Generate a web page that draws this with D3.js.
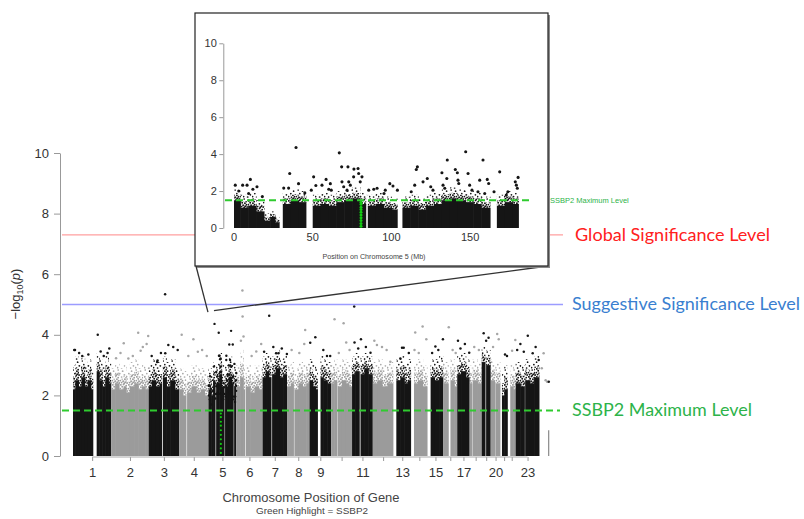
<!DOCTYPE html>
<html><head><meta charset="utf-8">
<script src="https://cdn.jsdelivr.net/npm/d3@7"></script>
<style>body{margin:0;background:#fff}svg{display:block}</style>
</head><body>
<svg id="c" width="804" height="519"></svg>
<script>
// ---------------- DATA ----------------
const chromosomes = ["1","2","3","4","5","6","7","8","9","10","11","12","13","14","15","16","17","18","19","20","21","22","23","24","25"];
const chromLengths = [249,243,198,191,181,171,159,146,141,136,135,134,115,107,103,90,81,78,59,63,48,51,155,59,3];
const labeledChromosomes = ["1","2","3","4","5","6","7","8","9","11","13","15","17","20","23"];
const yTicks = [0,2,4,6,8,10];
const insetXTicks = [0,50,100,150];
const levelNames = ["Global Significance Level","Suggestive Significance Level","SSBP2 Maximum Level"];
const levelValues = [7.3, 5.0, 1.5];

// dense body of each chromosome: [startMb, endMb, solidTop, fringeTop]
const bodySegments = [
 [[0,15,2.2,3.0],[15,35,2.5,3.3],[35,55,2.3,3.1],[55,75,2.6,3.3],[75,95,2.3,3.0],[95,115,2.5,3.2],[115,132,2.2,2.9],[154,170,2.8,3.4],[170,190,2.5,3.2],[190,210,2.3,3.0],[210,230,2.6,3.3],[230,249,2.4,3.1]],
 [[0,25,2.2,2.9],[25,50,2.4,3.1],[50,80,2.2,2.9],[80,95,2.3,3.0],[95,120,2.1,2.8],[120,150,2.3,3.1],[150,175,2.4,3.2],[175,200,2.2,2.9],[200,220,2.3,3.0],[220,243,2.2,2.9]],
 [[0,20,2.3,3.0],[20,45,2.5,3.2],[45,70,2.3,3.1],[70,88,2.4,3.0],[93,115,2.6,3.3],[115,140,2.3,3.1],[140,170,2.5,3.2],[170,198,2.2,2.9]],
 [[0,25,2.2,2.9],[25,48,2.0,2.8],[52,80,2.1,2.8],[80,110,2.3,3.0],[110,140,2.1,2.9],[140,165,2.2,2.9],[165,191,2.0,2.7]],
 [[0,18,2.2,2.9],[18,30,2.0,2.7],[30,46,2.5,3.1],[50,70,2.4,3.1],[70,85,2.7,3.4],[85,105,2.3,3.0],[108,130,2.3,3.0],[130,150,2.6,3.3],[150,164,2.4,3.1],[167,181,2.3,3.0]],
 [[0,25,2.3,3.0],[25,45,2.6,3.5],[45,58,2.2,2.9],[62,90,2.3,3.0],[90,120,2.1,2.8],[120,145,2.3,3.0],[145,171,2.2,2.9]],
 [[0,20,2.6,3.3],[20,40,2.8,3.4],[40,58,2.6,3.3],[62,85,2.7,3.3],[85,110,2.9,3.5],[110,135,2.6,3.2],[135,159,2.7,3.3]],
 [[0,25,2.3,3.0],[25,45,2.4,3.1],[48,75,2.2,2.9],[75,100,2.4,3.1],[100,125,2.3,3.0],[125,146,2.4,3.1]],
 [[0,20,2.5,3.2],[20,40,2.3,3.0],[40,55,2.2,2.9],[72,90,2.6,3.3],[90,115,2.5,3.2],[115,141,2.4,3.1]],
 [[0,20,2.4,3.1],[20,40,2.5,3.2],[42,70,2.3,3.0],[70,95,2.5,3.2],[95,115,2.4,3.1],[115,136,2.3,3.0]],
 [[0,20,2.7,3.3],[20,50,2.8,3.4],[55,80,2.7,3.3],[80,105,2.9,3.4],[105,135,2.7,3.3]],
 [[0,30,2.4,3.1],[30,60,2.5,3.2],[60,95,2.3,3.0],[95,134,2.4,3.1]],
 [[19,45,2.5,3.2],[45,70,2.6,3.3],[70,95,2.4,3.1],[95,115,2.5,3.2]],
 [[19,45,2.4,3.1],[45,75,2.5,3.2],[75,107,2.3,3.0]],
 [[20,45,2.6,3.2],[45,75,2.5,3.2],[75,103,2.6,3.3]],
 [[0,35,2.4,3.1],[46,70,2.5,3.2],[70,90,2.3,3.0]],
 [[0,25,2.7,3.3],[25,55,2.8,3.4],[55,81,2.6,3.2]],
 [[0,18,2.4,3.0],[20,50,2.5,3.2],[50,78,2.4,3.1]],
 [[0,25,3.1,3.6],[29,59,3.0,3.5]],
 [[0,28,2.5,3.2],[30,63,2.4,3.1]],
 [[10,25,2.0,2.8],[25,48,2.2,3.0]],
 [[16,35,2.3,3.0],[35,51,2.2,2.9]],
 [[0,30,2.4,3.1],[30,60,2.3,3.0],[62,90,2.5,3.2],[90,120,2.4,3.1],[120,155,2.6,3.3]],
 [],
 [[0,3,0.85,0.85]]
];

// scattered SNPs above the dense body: [chromosome, positionMb, -log10(p)]
const peakPoints = [
 [1,8,3.5],[1,13,3.5],[1,161,4.0],[1,236,3.55],[1,40,3.4],[1,100,3.35],[1,180,3.45],[1,200,3.3],[1,60,3.3],[1,225,3.4],
 [2,81,3.72],[2,175,4.07],[2,240,3.96],[2,230,3.7],[2,191,3.47],[2,111,3.22],[2,31,3.23],[2,140,3.3],[2,60,3.4],[2,205,3.6],
 [3,107,5.34],[3,128,3.66],[3,108,3.39],[3,20,3.3],[3,55,3.1],[3,58,3.15],[3,189,3.5],[3,160,3.6],[3,80,3.4],
 [4,93,3.85],[4,122,3.44],[4,60,3.3],[4,17,4.0],[4,150,3.5],[4,180,3.3],
 [6,40,5.46],[6,41,4.6],[6,47,3.94],[6,162,3.7],[6,30,3.8],[6,100,3.3],[6,130,3.45],
 [7,43,4.63],[7,103,3.39],[7,88,3.39],[7,158,3.37],[7,10,3.44],[7,70,3.6],[7,125,3.55],
 [8,118,4.16],[8,112,3.7],[8,30,3.5],[8,80,3.4],
 [9,38,3.92],[9,5,3.74],[9,114,3.3],[9,135,3.3],[9,90,3.5],
 [10,22,4.51],[10,81,4.38],[10,98,3.75],[10,50,3.4],[10,120,3.5],
 [11,14,4.93],[11,58,3.85],[11,16,3.75],[11,120,3.41],[11,90,3.6],[11,40,3.55],
 [12,27,3.66],[12,114,3.11],[12,60,3.6],[12,90,3.5],[12,10,3.8],
 [13,56,3.57],[13,67,3.57],[13,45,3.22],[13,100,3.4],
 [14,75,4.27],[14,27,4.08],[14,99,3.85],[14,22,3.5],[14,50,3.4],
 [15,100,3.85],[15,51,3.61],[15,70,3.5],[15,30,3.4],
 [16,35,4.25],[16,60,3.5],[16,80,3.4],
 [17,21,3.55],[17,78,3.41],[17,50,3.7],[17,5,3.8],
 [18,30,3.6],[18,60,3.5],
 [19,13,4.05],[19,29,3.8],[19,45,3.9],
 [20,42,4.03],[20,52,3.85],[20,15,3.6],
 [21,43,3.3],[21,30,3.35],
 [22,49,3.83],[22,28,3.47],
 [23,79,3.97],[23,31,3.7],[23,53,3.44],[23,111,3.39],[23,150,3.17],[23,130,3.6],[23,10,3.5],
 [24,27,3.39],[24,15,2.9],[24,40,2.5],[24,50,2.45],
 [25,1.5,2.45]
];

// chromosome 5 detail (inset): [positionMb, -log10(p)]
const chr5Points = [
 [39.4,4.36],[66.9,4.07],[72.4,3.31],[78.8,3.22],[35.4,2.95],[50.6,2.77],[10.4,2.63],[0.8,2.32],[5.5,2.32],[8.3,2.32],
 [14.6,2.23],[9.3,1.87],[31.6,2.16],[34.7,2.16],[41,2.4],[58.5,2.63],[61.2,2.4],[55.9,2.32],[60.2,2.1],[61.8,2.05],
 [68.6,2.5],[69.7,2.23],[72.9,2.5],[73.9,2.32],[76,2.77],[79.2,2.95],[81.3,2.77],[80.2,2.5],[71.8,2.05],[49.1,2.05],
 [85.6,2.05],[88.8,2.1],[90.9,2.15],[147.2,4.13],[135.5,3.68],[158.2,3.68],[116.5,3.31],[115.8,3.17],[132.1,2.99],[140.6,3.17],
 [141.9,2.99],[148.7,2.95],[168.8,3.04],[180.5,2.74],[178.7,2.5],[179.4,2.32],[122.8,2.68],[120.1,2.5],[114.8,2.32],[112.6,1.96],
 [101,2.27],[103.8,2.05],[96.1,2.05],[95.3,1.87],[125,2.23],[126.4,2.05],[132.8,2.32],[133.9,2.15],[135.2,2.68],[142.3,2.59],
 [142.8,2.41],[149.7,2.32],[151.2,2.05],[156.1,2.59],[160.9,2.63],[161.8,2.41],[155,1.96],[159.3,1.87],[165.2,1.96],[174,1.96],
 [173,1.78],[180,2.15],[3,2.0],[12,2.1],[18,1.7],[45,1.9],[99,2.4],[76.2,3.19],[68.4,3.31],[52,2.3]
];
const chr5Body = [
 [0,4,1.5,2.1],[4,9,1.1,1.8],[9,14,1.2,1.9],[14,19,0.9,1.5],[19,23,0.4,0.8],[23,26,0.6,0.9],[26,29,0.3,0.6],
 [31,36,1.3,1.9],[36,41,1.5,2.1],[41,46,1.4,2.0],[50,55,1.2,1.8],[55,60,1.3,1.9],[60,65,1.2,1.8],[65,70,1.4,2.0],
 [70,75,1.5,2.1],[75,80,1.6,2.2],[80,84,1.3,1.9],[85,90,1.2,1.8],[90,95,1.3,1.9],[95,100,1.1,1.7],[100,104,1.0,1.6],
 [107,112,1.1,1.7],[112,117,1.2,1.8],[117,122,1.0,1.6],[122,127,1.2,1.8],[127,132,1.3,1.9],[132,137,1.5,2.1],
 [137,142,1.6,2.2],[142,147,1.5,2.1],[147,152,1.4,2.0],[152,157,1.3,1.9],[157,163,1.1,1.7],[167,172,1.2,1.8],
 [172,177,1.4,2.0],[177,181,1.3,1.9]
];
const ssbp2Chrom = 5;
const ssbp2Pos = 80.7;
const ssbp2Values = [0.1,0.25,0.4,0.55,0.7,0.85,1.0,1.13,1.28,1.4];

// ---------------- DRAW ----------------
const svg = d3.select("#c");
const FONT = "'Liberation Sans', Arial, sans-serif";
const defs = svg.append("defs");
// stipple textures (style only): dot offsets inside one tile
const denseTile = [[0.8,0.9],[3.6,0.4],[6.2,1.6],[2.2,2.8],[4.9,3.3],[0.3,4.6],[3.1,5.2],[6.6,4.7],[1.6,6.6],[5.2,6.3],[7.2,7.0],[4.2,7.4]];
const sparseTile = [[1.2,1.0],[5.6,2.2],[2.8,4.6],[7.4,5.8],[0.6,7.6],[4.6,8.0]];
function dotPattern(id, color, size, r, pts){
  const p = defs.append("pattern").attr("id", id).attr("patternUnits","userSpaceOnUse")
    .attr("width", size).attr("height", size);
  pts.forEach(([cx, cy]) => p.append("circle").attr("cx", cx).attr("cy", cy).attr("r", r).attr("fill", color));
}
dotPattern("bDense", "#151515", 8, 0.95, denseTile);
dotPattern("bSparse", "#151515", 9, 0.85, sparseTile);
dotPattern("gDense", "#9d9d9d", 8, 0.95, denseTile);
dotPattern("gSparse", "#aaaaaa", 9, 0.85, sparseTile);

const offsets = []; let acc = 0;
chromLengths.forEach(l => { offsets.push(acc); acc += l; });
const total = acc;
const x = d3.scaleLinear().domain([0, total]).range([73, 549]);
const y = d3.scaleLinear().domain([0, 10]).range([456, 153]);
const isBlack = i => i % 2 === 0;

function drawBody(g, segs, xs, ys, black, minW){
  segs.forEach(([a, b, s, f], j) => {
    const next = segs[j + 1];
    const touching = next && next[0] === b;
    const x0 = xs(a), w = Math.max(minW, xs(b) - xs(a)) + (touching ? 0.6 : 0);
    const m = (s + f) / 2;
    if (s > 0) g.append("rect").attr("x", x0).attr("width", w).attr("y", ys(s)).attr("height", ys(0) - ys(s))
      .attr("fill", black ? "#151515" : "#9b9b9b");
    if (m > s) g.append("rect").attr("x", x0).attr("width", w).attr("y", ys(m)).attr("height", ys(s) - ys(m) + 0.3)
      .attr("fill", black ? "url(#bDense)" : "url(#gDense)");
    if (f > m) g.append("rect").attr("x", x0).attr("width", w).attr("y", ys(f)).attr("height", ys(m) - ys(f))
      .attr("fill", black ? "url(#bSparse)" : "url(#gSparse)");
  });
}

// main body
const gBody = svg.append("g");
bodySegments.forEach((segs, i) => {
  drawBody(gBody, segs, v => x(offsets[i] + v), y, isBlack(i), 0.6);
});

// main scattered points
svg.append("g").selectAll("circle").data(peakPoints).join("circle")
  .attr("cx", d => x(offsets[d[0]-1] + d[1])).attr("cy", d => y(d[2])).attr("r", 1.25)
  .attr("fill", d => isBlack(d[0]-1) ? "#151515" : "#a6a6a6");
svg.append("g").selectAll("circle").data(chr5Points).join("circle")
  .attr("cx", d => x(offsets[4] + d[0])).attr("cy", d => y(d[1])).attr("r", 1.2).attr("fill", "#151515");

// SSBP2 highlight (main)
svg.append("g").selectAll("circle").data(ssbp2Values).join("circle")
  .attr("cx", x(offsets[ssbp2Chrom-1] + ssbp2Pos)).attr("cy", d => y(d)).attr("r", 1.1).attr("fill", "#11cc11");

// level lines
const levelColors = ["#ff9f9f", "#9c9cff"];
[0,1].forEach(k => {
  svg.append("line").attr("x1", 62).attr("x2", 563).attr("y1", y(levelValues[k])).attr("y2", y(levelValues[k]))
    .attr("stroke", levelColors[k]).attr("stroke-width", k === 0 ? 1.3 : 1.6);
});
svg.append("line").attr("x1", 62).attr("x2", 560).attr("y1", y(levelValues[2])).attr("y2", y(levelValues[2]))
  .attr("stroke", "#2fcb2f").attr("stroke-width", 2).attr("stroke-dasharray", "7,4");

// y axis
const yAx = svg.append("g").attr("transform", "translate(60,0)")
  .call(d3.axisLeft(y).tickValues(yTicks).tickSize(6).tickSizeOuter(0).tickPadding(5));
yAx.select(".domain").attr("stroke", "#999");
yAx.selectAll(".tick line").attr("stroke", "#999");
yAx.selectAll("text").attr("font-family", FONT).attr("font-size", 13).attr("fill", "#333");

// x axis
const centers = chromosomes.slice(0, 23).map((c, i) => offsets[i] + chromLengths[i] / 2);
const xAx = svg.append("g").attr("transform", "translate(0,457)")
  .call(d3.axisBottom(x).tickValues(centers).tickSize(4).tickSizeOuter(0).tickPadding(7)
    .tickFormat((d, i) => labeledChromosomes.includes(chromosomes[i]) ? chromosomes[i] : ""));
xAx.select(".domain").remove();
xAx.append("line").attr("x1", x(centers[0])).attr("x2", x(centers[centers.length-1])).attr("stroke", "#aaa");
xAx.selectAll(".tick line").attr("stroke", "#999");
xAx.selectAll("text").attr("font-family", FONT).attr("font-size", 13).attr("fill", "#333");

// axis titles
const yl = svg.append("text").attr("transform", "translate(20,294) rotate(-90)").attr("text-anchor", "middle")
  .attr("font-family", FONT).attr("font-size", 13).attr("fill", "#333");
yl.append("tspan").text("\u2212log");
yl.append("tspan").attr("font-size", 9).attr("dy", 3).text("10");
yl.append("tspan").attr("dy", -3).text("(");
yl.append("tspan").attr("font-style", "italic").text("p");
yl.append("tspan").text(")");

svg.append("text").attr("x", 311).attr("y", 502).attr("text-anchor", "middle")
  .attr("font-family", FONT).attr("font-size", 13.5).attr("fill", "#444")
  .attr("textLength", 177).attr("lengthAdjust", "spacingAndGlyphs").text("Chromosome Position of Gene");
svg.append("text").attr("x", 312).attr("y", 514).attr("text-anchor", "middle")
  .attr("font-family", FONT).attr("font-size", 9.5).attr("fill", "#444")
  .attr("textLength", 112).attr("lengthAdjust", "spacingAndGlyphs").text("Green Highlight = SSBP2");

// level labels
const LFONT = "Lato, 'Open Sans', sans-serif";
const levelLabelColors = ["#ff2020", "#3a7fd0", "#2db34a"];
const levelLabelX = [575, 572, 572];
const levelLabelW = [195, 228, 180];
levelNames.forEach((n, k) => {
  svg.append("text").attr("x", levelLabelX[k]).attr("y", y(levelValues[k]) + 1.5)
    .attr("dominant-baseline", "middle").attr("font-family", LFONT).attr("font-size", 17)
    .attr("fill", levelLabelColors[k]).attr("textLength", levelLabelW[k]).attr("lengthAdjust", "spacingAndGlyphs")
    .text(n);
});

// zoom connector lines
const zoomG = svg.append("g").attr("stroke", "#333").attr("stroke-width", 1.3);
zoomG.append("line").attr("x1", 196).attr("y1", 266).attr("x2", x(offsets[4]) - 0.5).attr("y2", y(4.75));
zoomG.append("line").attr("x1", 548).attr("y1", 266).attr("x2", x(offsets[4] + 36)).attr("y2", y(4.8));

// ---------------- INSET ----------------
svg.append("rect").attr("x", 197).attr("y", 15).attr("width", 353).attr("height", 253).attr("fill", "#8a8a8a");
svg.append("rect").attr("x", 195).attr("y", 13).attr("width", 353).attr("height", 253)
  .attr("fill", "#fff").attr("stroke", "#222").attr("stroke-width", 1.2);

const xi = d3.scaleLinear().domain([0, 181]).range([234, 518.9]);
const yi = d3.scaleLinear().domain([0, 10]).range([228, 43.3]);
const gIn = svg.append("g");
drawBody(gIn, chr5Body, xi, yi, true, 0.6);
gIn.selectAll("circle.p").data(chr5Points).join("circle").attr("class", "p")
  .attr("cx", d => xi(d[0])).attr("cy", d => yi(d[1])).attr("r", 1.55).attr("fill", "#151515");
gIn.selectAll("circle.s").data(ssbp2Values).join("circle").attr("class", "s")
  .attr("cx", xi(ssbp2Pos)).attr("cy", d => yi(d)).attr("r", 1.5).attr("fill", "#11cc11");
svg.append("line").attr("x1", 225).attr("x2", 533).attr("y1", yi(levelValues[2])).attr("y2", yi(levelValues[2]))
  .attr("stroke", "#2fcb2f").attr("stroke-width", 2).attr("stroke-dasharray", "7,4");

const yiAx = svg.append("g").attr("transform", "translate(223.3,0)")
  .call(d3.axisLeft(yi).tickValues(yTicks).tickSize(4).tickSizeOuter(0).tickPadding(2.5));
yiAx.select(".domain").attr("stroke", "#999");
yiAx.selectAll(".tick line").attr("stroke", "#999");
yiAx.selectAll("text").attr("font-family", FONT).attr("font-size", 11).attr("fill", "#333");

svg.append("g").selectAll("text").data(insetXTicks).join("text")
  .attr("x", d => xi(d)).attr("y", 241).attr("text-anchor", "middle")
  .attr("font-family", FONT).attr("font-size", 11).attr("fill", "#333").text(d => d);
svg.append("text").attr("x", 374).attr("y", 259).attr("text-anchor", "middle")
  .attr("font-family", FONT).attr("font-size", 7.5).attr("fill", "#444")
  .attr("textLength", 103).attr("lengthAdjust", "spacingAndGlyphs").text("Position on Chromosome 5 (Mb)");
svg.append("text").attr("x", 550).attr("y", yi(levelValues[2]) + 0.5).attr("dominant-baseline", "middle")
  .attr("font-family", FONT).attr("font-size", 7.5).attr("fill", "#2db34a").text(levelNames[2]);
</script>
</body></html>
